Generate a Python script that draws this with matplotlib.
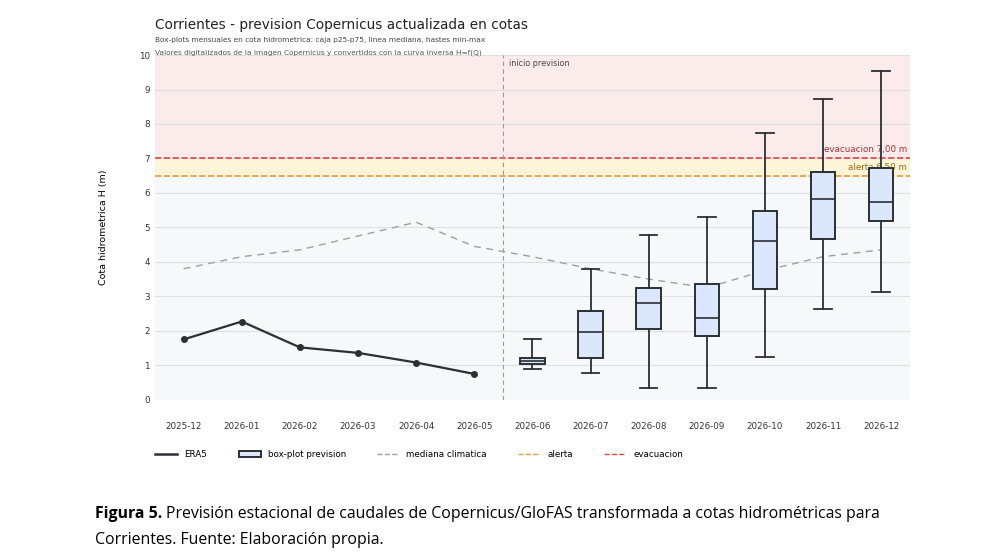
import matplotlib.pyplot as plt
from matplotlib.lines import Line2D
from matplotlib.patches import Patch

months = ["2025-12", "2026-01", "2026-02", "2026-03", "2026-04", "2026-05", "2026-06",
          "2026-07", "2026-08", "2026-09", "2026-10", "2026-11", "2026-12"]
era5 = [1.75, 2.27, 1.52, 1.36, 1.08, 0.75]
clim = [3.8, 4.15, 4.35, 4.75, 5.15, 4.45, 4.15, 3.8, 3.5, 3.25, 3.75, 4.15, 4.35]
box_min = [0.9, 0.78, 0.35, 0.35, 1.25, 2.62, 3.13]
box_q1 = [1.05, 1.2, 2.05, 1.85, 3.2, 4.65, 5.2]
box_med = [1.12, 1.97, 2.8, 2.37, 4.6, 5.82, 5.75]
box_q3 = [1.2, 2.57, 3.25, 3.35, 5.47, 6.6, 6.72]
box_max = [1.75, 3.8, 4.78, 5.3, 7.75, 8.72, 9.55]
alerta = 6.5
evac = 7.0

fig = plt.figure(figsize=(9.97, 5.56), dpi=100)
ax = fig.add_axes([0.155, 0.281, 0.758, 0.62])
ax.set_xlim(-0.5, 12.5)
ax.set_ylim(0, 10)
ax.axhspan(0, alerta, color="#f7f8fa", zorder=0)
ax.axhspan(alerta, evac, color="#fdf5d8", zorder=0)
ax.axhspan(evac, 10, color="#fbeceb", zorder=0)
ax.grid(axis="y", color="#dddfe3", lw=0.8, zorder=1)
ax.set_axisbelow(True)
for s in ax.spines.values():
    s.set_visible(False)
ax.tick_params(length=0, labelsize=6.3, colors="#333333")
ax.set_yticks(range(11))
ax.tick_params(axis="x", pad=16)
ax.set_ylabel("Cota hidrometrica H (m)", fontsize=6.8, labelpad=22)

ax.axhline(alerta, color="#e69a3a", ls="--", lw=1.2, zorder=2)
ax.axhline(evac, color="#e0454a", ls="--", lw=1.2, zorder=2)
ax.text(12.45, evac + 0.12, "evacuacion 7,00 m", color="#b03038", fontsize=6.3, ha="right", va="bottom")
ax.text(12.45, alerta + 0.1, "alerta 6,50 m", color="#a06c20", fontsize=6.3, ha="right", va="bottom")
ax.axvline(5.5, color="#999999", ls=(0, (4, 3)), lw=0.8)
ax.text(5.6, 9.75, "inicio prevision", fontsize=5.8, color="#444444", va="center")

ax.plot(range(len(clim)), clim, color="#9aa0a8", ls=(0, (5, 4)), lw=1, zorder=3)
ax.plot(range(len(era5)), era5, color="#2b2f36", lw=1.6, marker="o", ms=4, zorder=4)

stats = []
for i in range(len(box_med)):
    stats.append({"whislo": box_min[i], "q1": box_q1[i], "med": box_med[i],
                  "q3": box_q3[i], "whishi": box_max[i]})
ax.bxp(stats, positions=range(6, 13), widths=0.42, showfliers=False, patch_artist=True,
       boxprops=dict(facecolor="#dbe8fc", edgecolor="#2b2f36", lw=1.4),
       medianprops=dict(color="#2b2f36", lw=1.2),
       whiskerprops=dict(color="#2b2f36", lw=1.3),
       capprops=dict(color="#2b2f36", lw=1.3), capwidths=0.3, zorder=5)
ax.set_xticks(range(len(months)))
ax.set_xticklabels(months)

fig.text(0.155, 0.947, "Corrientes - prevision Copernicus actualizada en cotas", fontsize=9.8, color="#222222")
fig.text(0.155, 0.925, "Box-plots mensuales en cota hidrometrica: caja p25-p75, linea mediana, hastes min-max",
         fontsize=5.3, color="#444444")
fig.text(0.155, 0.902, "Valores digitalizados de la imagen Copernicus y convertidos con la curva inversa H=f(Q)",
         fontsize=5.3, color="#555555")

handles = [Line2D([], [], color="#2b2f36", lw=1.8),
           Patch(facecolor="#dbe8fc", edgecolor="#2b2f36", lw=1.4),
           Line2D([], [], color="#9aa0a8", ls="--", lw=1),
           Line2D([], [], color="#e69a3a", ls="--", lw=1),
           Line2D([], [], color="#e0454a", ls="--", lw=1)]
labels = ["ERA5", "box-plot prevision", "mediana climatica", "alerta", "evacuacion"]
fig.legend(handles, labels, loc="center left", bbox_to_anchor=(0.148, 0.182), ncol=5,
           frameon=False, fontsize=6.3, columnspacing=3.6, handlelength=2.5)

fig.text(0.095, 0.068, "Figura 5.", fontsize=11.4, fontweight="bold", family="Open Sans")
fig.text(0.166, 0.068, "Previsión estacional de caudales de Copernicus/GloFAS transformada a cotas hidrométricas para",
         fontsize=11.4, family="Open Sans")
fig.text(0.095, 0.022, "Corrientes. Fuente: Elaboración propia.", fontsize=11.4, family="Open Sans")

fig.savefig("out.png", dpi=100)
